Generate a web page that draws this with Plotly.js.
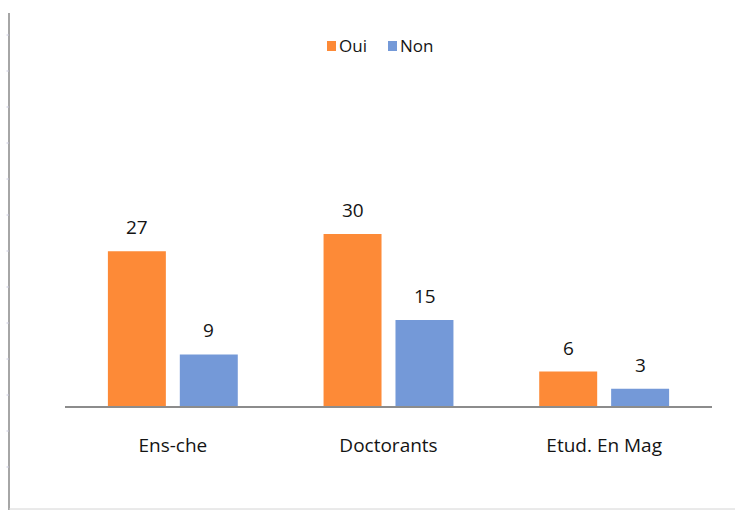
<!DOCTYPE html>
<html>
<head>
<meta charset="utf-8">
<script src="https://cdn.plot.ly/plotly-3.0.1.min.js"></script>
<style>html,body{margin:0;padding:0;background:#fff;}#chart{width:735px;height:510px;}</style>
</head>
<body>
<div id="chart"></div>
<script>
var categories = ["Ens-che", "Doctorants", "Etud. En Mag"];
var seriesNames = ["Oui", "Non"];
var ouiValues = [27, 30, 6];
var nonValues = [9, 15, 3];
var colors = ["#FD8A37", "#7499D8"];

var FONT = "Open Sans, Noto Sans, sans-serif";
var TXT = "#141414";
var traces = [
  {type: "bar", name: seriesNames[0], x: categories, y: ouiValues, marker: {color: colors[0]}, hoverinfo: "none", showlegend: false},
  {type: "bar", name: seriesNames[1], x: categories, y: nonValues, marker: {color: colors[1]}, hoverinfo: "none", showlegend: false}
];

var W = 647, H = 344, L = 65, B = 406;
function px(x) { return (x - L) / W; }
function py(y) { return (B - y) / H; }

var annotations = [];
[ouiValues, nonValues].forEach(function (vals, si) {
  vals.forEach(function (v, i) {
    annotations.push({
      x: categories[i], y: v, xref: "x", yref: "y",
      text: String(v), showarrow: false,
      xshift: si === 0 ? -36 : 36, yshift: 9, yanchor: "bottom",
      font: {family: FONT, size: 19, color: TXT}
    });
  });
});

// frame decorations (left border with small ticks, bottom border)
var shapes = [
  {type: "line", xref: "paper", yref: "paper", x0: px(9), x1: px(9), y0: py(13), y1: py(512), line: {color: "#a6a6a6", width: 2}},
  {type: "line", xref: "paper", yref: "paper", x0: px(9), x1: px(740), y0: py(509), y1: py(509), line: {color: "#d4d4d4", width: 1}}
];
for (var t = 35; t < 500; t += 36) {
  shapes.push({type: "line", xref: "paper", yref: "paper", x0: px(6.5), x1: px(9), y0: py(t), y1: py(t), line: {color: "#c8c8dc", width: 1}});
}

// custom legend
var legendX = [327, 388];
seriesNames.forEach(function (name, i) {
  shapes.push({type: "rect", xref: "paper", yref: "paper", x0: px(legendX[i]), x1: px(legendX[i] + 9),
               y0: py(51), y1: py(41), fillcolor: colors[i], line: {width: 0}});
  annotations.push({xref: "paper", yref: "paper", x: px(legendX[i] + 10), y: py(46), xanchor: "left", yanchor: "middle",
                    text: name, showarrow: false, font: {family: FONT, size: 17, color: TXT}});
});

var layout = {
  width: 735, height: 510,
  margin: {l: L, r: 735 - 712, t: 62, b: 510 - B},
  paper_bgcolor: "#ffffff", plot_bgcolor: "#ffffff",
  barmode: "group", bargap: 0.333, bargroupgap: 0.194,
  showlegend: false,
  xaxis: {showline: true, linecolor: "#8c8c8c", linewidth: 2, ticks: "", showgrid: false,
          ticklabelstandoff: 21, tickfont: {family: FONT, size: 19, color: TXT}, fixedrange: true},
  yaxis: {range: [0, 60], visible: false, showgrid: false, zeroline: false, fixedrange: true},
  annotations: annotations,
  shapes: shapes
};
Plotly.newPlot("chart", traces, layout, {displayModeBar: false, staticPlot: true});
</script>
</body>
</html>
